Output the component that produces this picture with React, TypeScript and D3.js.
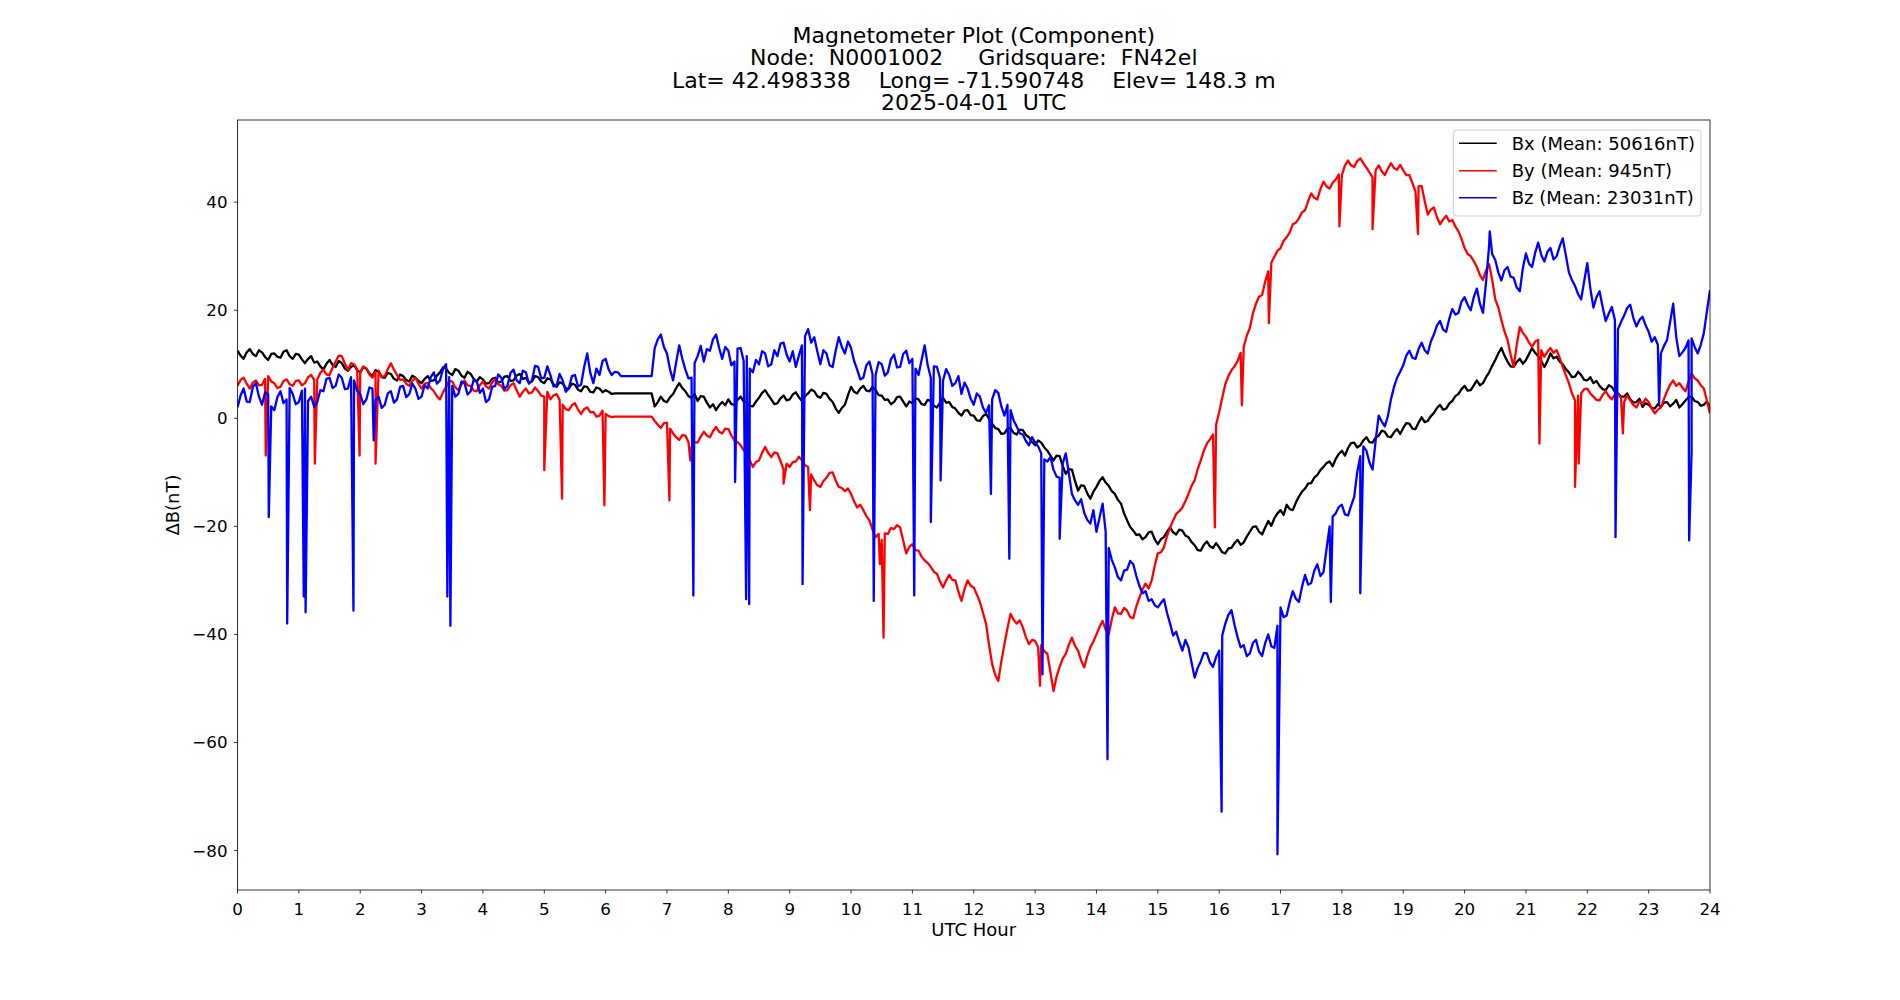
import * as d3 from "d3";

const width = 1900;
const height = 1000;
const marginTop = 120;
const marginRight = 190;
const marginBottom = 110;
const marginLeft = 237.5;

const titleLines = [
  "Magnetometer Plot (Component)",
  "Node:  N0001002     Gridsquare:  FN42el",
  "Lat= 42.498338    Long= -71.590748    Elev= 148.3 m",
  "2025-04-01  UTC",
];

const hourTicks = d3.range(0, 25);
const deltaTicks = [-80, -60, -40, -20, 0, 20, 40];

// readings every 3 minutes, 00:00 to 24:00 UTC, nT offset from the daily mean
// (one row per hour)
const sampleStep = 0.05;

const bx = [
  12.5, 11.6, 11.0, 12.2, 12.8, 11.9, 11.5, 12.6, 12.2, 11.3, 10.8, 11.9, 12.0, 11.4, 11.2, 12.3, 12.6, 11.5, 11.0, 11.9,
  11.8, 10.9, 10.2, 11.0, 11.5, 10.3, 10.5, 9.6, 9.0, 10.1, 10.8, 9.9, 9.5, 10.6, 10.2, 9.2, 8.8, 9.5, 9.8, 8.9,
  8.5, 9.4, 9.2, 8.3, 7.8, 8.9, 8.6, 7.6, 7.5, 8.4, 8.2, 7.3, 7.0, 8.1, 7.8, 7.1, 6.8, 7.9, 7.5, 6.9,
  6.5, 7.3, 7.8, 6.9, 7.0, 7.9, 8.5, 9.4, 9.2, 8.4, 8.0, 9.1, 8.8, 7.9, 7.5, 8.6, 8.2, 7.3, 6.8, 7.6,
  7.2, 6.4, 6.5, 7.3, 7.5, 6.6, 6.8, 7.7, 7.8, 6.9, 7.0, 7.9, 8.2, 7.3, 7.5, 6.6, 6.8, 7.8, 7.6, 6.8,
  6.5, 7.4, 7.2, 6.3, 5.8, 6.7, 6.4, 5.6, 5.5, 6.4, 6.2, 5.3, 5.0, 5.9, 5.8, 4.9, 4.8, 5.7, 5.5, 4.8,
  5.2, 4.9, 4.5, 4.6, 4.6, 4.6, 4.6, 4.6, 4.6, 4.6, 4.6, 4.6, 4.6, 4.6, 4.6, 4.6, 2.2, 3.0, 4.0, 3.2,
  3.0, 3.9, 4.5, 5.6, 6.5, 5.6, 5.0, 4.1, 3.8, 4.5, 3.2, 4.1, 4.0, 2.9, 2.0, 2.6, 1.5, 2.4, 3.0, 2.4,
  3.5, 2.6, 2.5, 3.4, 4.0, 3.1, 3.0, 2.3, 2.2, 3.1, 3.8, 4.7, 5.2, 4.3, 3.5, 2.6, 2.8, 3.7, 4.2, 3.3,
  3.5, 4.4, 4.8, 3.9, 3.2, 4.1, 4.6, 5.3, 5.0, 4.1, 3.8, 4.7, 4.5, 3.6, 3.0, 1.8, 1.0, 1.9, 2.5, 4.3,
  5.8, 4.9, 4.6, 5.5, 6.0, 5.1, 5.0, 5.8, 5.2, 4.3, 4.2, 3.4, 3.5, 2.6, 3.0, 3.9, 4.0, 3.1, 2.2, 3.1,
  2.8, 3.7, 3.5, 2.6, 2.5, 3.4, 3.2, 2.3, 2.0, 2.9, 3.8, 2.9, 3.0, 2.1, 1.8, 1.0, 0.5, 1.4, 1.5, 0.6,
  0.5, -0.4, -0.5, 0.4, 0.8, -0.1, -1.0, -1.8, -2.0, -2.9, -2.8, -1.9, -1.8, -2.7, -3.0, -2.1, -2.2, -3.1, -3.5, -4.4,
  -5.0, -4.1, -4.5, -5.4, -6.0, -6.9, -7.8, -6.9, -7.0, -8.8, -10.3, -9.4, -9.5, -11.6, -13.4, -12.4, -12.5, -13.9, -14.9, -13.6,
  -12.7, -11.6, -10.9, -11.9, -12.5, -13.5, -14.0, -15.1, -15.8, -17.6, -18.9, -20.1, -20.8, -21.6, -21.5, -22.4, -22.0, -21.1, -21.0, -22.4,
  -23.3, -22.4, -22.0, -21.0, -20.2, -21.1, -21.5, -20.6, -20.8, -21.7, -22.0, -22.9, -23.5, -24.4, -24.5, -23.4, -22.8, -23.7, -24.0, -23.1,
  -23.9, -24.8, -25.0, -24.1, -24.0, -23.1, -22.5, -23.4, -23.0, -21.9, -21.0, -20.1, -20.0, -21.0, -21.5, -20.2, -19.0, -19.9, -18.5, -17.6,
  -17.0, -17.9, -16.0, -16.8, -17.0, -15.6, -14.5, -13.6, -13.0, -12.1, -12.0, -11.0, -10.5, -9.6, -9.0, -8.3, -8.0, -8.9, -7.5, -6.6,
  -6.0, -6.9, -5.5, -4.6, -4.5, -5.4, -5.0, -4.1, -3.5, -4.4, -4.5, -3.6, -3.2, -2.3, -2.5, -3.4, -3.5, -2.6, -2.0, -2.9,
  -1.8, -0.9, -1.0, -1.9, -2.0, -0.8, 0.2, -0.7, -0.5, 0.4, 1.0, 1.9, 2.5, 1.6, 1.8, 2.7, 3.2, 4.1, 4.5, 5.4,
  6.0, 5.1, 5.2, 6.1, 7.0, 6.1, 6.5, 7.6, 8.5, 9.7, 10.8, 12.0, 13.0, 11.6, 10.5, 9.6, 9.5, 10.4, 11.0, 10.1,
  10.8, 11.9, 13.0, 12.1, 11.5, 10.6, 9.5, 10.6, 12.0, 11.1, 11.4, 10.5, 10.0, 9.1, 8.5, 7.6, 7.7, 8.6, 8.0, 7.1,
  7.0, 7.6, 6.5, 6.9, 6.0, 5.4, 5.2, 6.1, 5.8, 4.9, 4.6, 4.0, 4.0, 4.6, 3.5, 2.9, 3.0, 3.6, 2.1, 2.8,
  2.5, 1.9, 1.8, 2.6, 2.1, 2.9, 3.0, 2.2, 2.7, 3.4, 2.0, 2.6, 3.3, 3.9, 4.0, 3.2, 3.0, 2.3, 2.5, 3.1,
  2.1,
];

const by = [
  6.0, 7.1, 7.5, 6.4, 5.5, 6.6, 7.0, 6.1, 6.2, 7.3, 7.8, 6.8, 6.5, 5.6, 5.8, 6.9, 7.2, 6.3, 6.0, 6.9,
  7.0, 6.1, 6.5, 7.6, 8.0, 7.1, 7.2, 8.4, 9.0, 8.1, 8.0, 9.4, 10.5, 11.6, 11.5, 10.1, 9.0, 10.2, 10.0, 9.1,
  8.5, 9.6, 9.2, 8.1, 7.5, 8.6, 8.8, 7.7, 7.8, 9.1, 10.2, 9.0, 8.0, 7.1, 7.2, 6.4, 6.0, 6.9, 7.5, 6.4,
  5.5, 6.4, 6.5, 5.6, 5.0, 4.1, 3.5, 4.8, 5.8, 6.9, 6.8, 5.7, 5.2, 6.3, 7.0, 6.1, 6.0, 5.1, 5.0, 6.1,
  6.8, 5.9, 5.5, 6.6, 7.2, 6.3, 6.0, 5.1, 5.2, 6.1, 6.5, 5.2, 4.0, 4.9, 5.5, 4.6, 4.8, 5.7, 5.0, 4.2,
  4.0, 4.9, 3.5, 4.2, 4.5, 3.4, 2.5, 1.7, 1.5, 2.4, 2.8, 1.6, 0.8, 1.7, 2.0, 1.1, 1.2, 0.3, 0.5, 1.4,
  0.8, 0.4, 0.2, 0.3, 0.3, 0.3, 0.3, 0.3, 0.3, 0.3, 0.3, 0.3, 0.3, 0.3, 0.3, 0.3, -0.5, -1.2, -1.8, -0.9,
  -0.8, -1.9, -2.8, -3.5, -4.0, -3.1, -3.2, -4.4, -5.3, -4.4, -4.5, -3.4, -2.5, -3.2, -3.5, -2.4, -1.6, -2.5, -2.8, -1.9,
  -2.0, -3.2, -4.1, -4.4, -5.0, -5.9, -6.5, -7.8, -9.0, -8.1, -7.8, -6.4, -5.3, -6.4, -7.2, -6.3, -6.5, -7.9, -9.5, -8.4,
  -9.0, -8.1, -8.0, -7.1, -7.8, -8.7, -9.0, -10.4, -11.5, -12.4, -12.7, -11.6, -11.0, -10.1, -10.0, -11.5, -12.7, -12.9, -13.5, -13.0,
  -14.0, -15.4, -16.5, -16.0, -17.0, -18.1, -18.9, -20.6, -22.0, -21.4, -22.5, -21.3, -21.4, -20.3, -20.5, -19.8, -20.2, -22.6, -25.0, -23.8,
  -23.3, -24.4, -24.5, -25.6, -26.3, -26.8, -27.5, -28.4, -28.8, -30.2, -31.3, -30.0, -29.0, -29.9, -30.0, -32.1, -33.8, -31.6, -30.0, -31.0,
  -31.3, -32.6, -34.0, -36.0, -38.0, -42.0, -45.5, -47.5, -48.6, -45.0, -41.8, -38.8, -36.2, -37.3, -38.0, -37.4, -38.7, -40.5, -41.8, -41.0,
  -41.2, -42.4, -42.0, -43.1, -43.6, -47.0, -50.5, -47.8, -46.0, -44.5, -43.6, -41.9, -40.6, -42.1, -43.0, -44.8, -46.1, -44.0, -42.4, -41.3,
  -40.0, -38.6, -37.5, -39.1, -40.0, -37.2, -35.0, -36.1, -36.2, -35.1, -35.6, -36.8, -37.0, -34.8, -33.2, -31.7, -30.6, -31.5, -30.0, -27.3,
  -25.0, -24.8, -23.9, -21.8, -20.2, -18.9, -17.7, -17.2, -16.5, -15.3, -14.0, -12.5, -11.5, -9.4, -7.8, -6.0, -4.7, -3.9, -3.0, -1.2,
  1.1, 3.8, 6.3, 7.8, 8.9, 9.6, 10.6, 12.1, 13.2, 15.3, 16.7, 19.4, 21.2, 22.5, 22.8, 25.3, 27.2, 28.8, 29.9, 31.0,
  31.5, 32.8, 33.5, 34.4, 35.9, 36.2, 37.0, 38.1, 38.5, 40.2, 41.6, 40.8, 40.5, 42.4, 43.8, 42.9, 42.5, 43.6, 44.2, 45.1,
  45.0, 46.8, 47.7, 46.8, 46.5, 47.6, 48.1, 47.2, 46.4, 45.5, 44.6, 45.9, 46.8, 45.7, 45.0, 46.2, 47.2, 46.3, 46.0, 46.9,
  45.9, 45.0, 45.0, 43.5, 42.0, 42.9, 43.0, 40.2, 37.7, 38.6, 39.0, 37.2, 35.9, 36.8, 37.5, 36.4, 36.7, 35.5, 34.6, 33.2,
  31.5, 30.4, 30.0, 29.1, 28.0, 26.5, 25.6, 27.4, 28.5, 25.6, 22.0, 20.5, 18.2, 16.1, 14.5, 11.8, 9.5, 13.6, 16.9, 15.8,
  15.1, 14.0, 13.2, 14.2, 14.5, 12.6, 11.4, 12.3, 13.0, 12.1, 12.6, 11.2, 9.5, 8.0, 6.5, 4.6, 3.3, 4.2, 4.6, 5.4,
  5.5, 4.6, 4.0, 3.4, 3.3, 4.3, 5.0, 4.1, 3.5, 4.4, 4.6, 3.7, 3.0, 4.2, 3.3, 2.5, 2.0, 3.1, 2.7, 3.6,
  3.0, 1.8, 0.9, 1.6, 2.0, 3.6, 5.0, 6.2, 7.0, 6.0, 6.5, 5.7, 5.0, 6.8, 8.3, 7.4, 7.0, 6.1, 5.5, 3.2,
  0.9,
];

const bz = [
  2.0, 4.2, 5.5, 3.1, 3.0, 5.8, 6.5, 4.0, 2.5, 4.8, 4.5, 2.2, 1.5, 3.9, 5.0, 2.8, 3.5, 5.6, 4.5, 2.6,
  3.0, 5.1, 5.5, 3.2, 4.0, 2.1, 3.0, 5.2, 5.0, 7.3, 7.5, 5.6, 6.0, 8.1, 7.5, 5.4, 5.5, 7.6, 7.0, 5.1,
  4.5, 2.6, 3.5, 5.7, 5.5, 3.4, 4.0, 1.9, 2.5, 4.6, 5.0, 2.9, 3.5, 5.8, 6.0, 3.9, 4.5, 6.4, 5.5, 3.6,
  4.0, 6.1, 5.5, 7.6, 8.5, 6.4, 7.0, 9.2, 10.0, 7.6, 6.0, 4.0, 4.5, 6.8, 6.5, 4.4, 5.0, 7.1, 6.8, 4.7,
  5.5, 3.0, 3.5, 5.8, 6.0, 8.1, 7.5, 5.4, 6.0, 8.4, 9.0, 7.0, 6.5, 8.8, 8.5, 6.4, 7.0, 9.7, 9.5, 7.4,
  7.5, 9.6, 8.0, 5.9, 6.0, 8.2, 7.0, 4.9, 5.5, 7.8, 8.0, 5.9, 6.2, 9.5, 12.0, 8.4, 6.5, 9.2, 8.0, 10.6,
  11.0, 9.0, 8.0, 8.6, 8.5, 7.8, 7.8, 7.8, 7.8, 7.8, 7.8, 7.8, 7.8, 7.8, 7.8, 7.8, 13.0, 14.6, 15.5, 13.2,
  12.0, 9.0, 7.0, 10.4, 13.5, 11.0, 9.0, 7.4, 7.5, 10.2, 11.5, 13.4, 10.5, 12.8, 12.5, 14.6, 15.5, 13.0, 11.0, 13.2,
  12.5, 9.8, 10.5, 12.9, 13.0, 10.6, 11.5, 9.2, 8.5, 10.8, 10.0, 12.4, 12.0, 9.6, 10.0, 12.6, 11.5, 13.8, 14.0, 11.8,
  10.5, 12.4, 9.5, 11.6, 13.5, 15.2, 16.5, 14.0, 15.0, 12.4, 10.0, 12.6, 12.0, 9.8, 9.5, 12.5, 15.0, 13.2, 12.0, 14.2,
  13.0, 10.6, 9.0, 7.2, 7.5, 9.8, 10.5, 8.2, 8.0, 10.4, 10.0, 7.9, 8.5, 10.9, 11.8, 9.4, 9.5, 11.9, 12.5, 10.2,
  11.0, 9.2, 8.0, 10.8, 13.5, 9.8, 7.5, 9.6, 9.5, 7.4, 7.0, 9.1, 8.0, 6.0, 6.5, 7.8, 4.5, 6.6, 5.5, 3.6,
  2.5, 4.6, 4.0, 2.0, 1.0, 2.4, 3.5, 5.2, 4.7, 2.2, 0.5, 2.5, 1.5, -0.4, -1.5, -2.8, -3.0, -4.2, -5.0, -3.5,
  -4.5, -5.2, -6.5, -7.6, -8.0, -7.2, -9.5, -10.8, -11.0, -8.4, -6.5, -10.2, -14.0, -15.2, -16.0, -15.0, -17.5, -18.8, -19.5, -17.0,
  -21.0, -18.4, -15.8, -21.0, -24.0, -26.2, -27.6, -29.4, -30.0, -28.2, -28.0, -26.4, -27.0, -29.2, -31.0, -32.4, -32.0, -33.8, -33.5, -34.6,
  -35.0, -34.2, -33.5, -36.0, -38.0, -40.2, -39.5, -41.4, -43.0, -41.0, -42.4, -45.2, -48.0, -46.2, -45.0, -43.4, -43.5, -45.2, -46.0, -44.2,
  -43.0, -40.2, -38.0, -36.4, -35.5, -38.2, -40.5, -42.4, -42.0, -44.0, -43.5, -41.6, -41.0, -43.2, -44.0, -41.6, -40.0, -42.2, -42.5, -38.4,
  -35.0, -36.8, -36.5, -34.0, -32.0, -33.4, -34.0, -31.2, -29.0, -30.8, -30.5, -28.2, -27.0, -29.2, -28.5, -24.2, -20.0, -18.2, -17.6, -16.4,
  -16.0, -17.8, -18.0, -16.2, -14.6, -10.0, -7.0, -5.2, -6.0, -8.2, -9.5, -4.2, 0.5, -0.6, -1.5, 0.4, 3.5, 5.8, 7.5, 8.6,
  9.8, 11.6, 12.5, 11.2, 11.0, 12.8, 14.0, 12.6, 12.0, 14.2, 15.5, 17.2, 18.0, 16.4, 16.0, 18.4, 20.2, 19.2, 19.5, 21.6,
  22.4, 21.0, 20.0, 22.4, 24.0, 21.2, 19.5, 25.2, 32.0, 30.4, 29.3, 27.0, 25.5, 27.4, 28.0, 26.2, 26.0, 24.2, 23.5, 27.8,
  30.5, 28.6, 28.0, 30.6, 32.5, 30.2, 29.0, 30.8, 31.5, 29.4, 30.0, 31.8, 33.3, 30.2, 27.0, 25.6, 24.5, 23.0, 22.0, 25.4,
  28.7, 24.0, 20.5, 22.4, 23.5, 20.6, 18.0, 19.4, 20.6, 18.2, 16.5, 17.8, 19.0, 20.4, 21.0, 18.6, 17.0, 18.2, 18.8, 17.2,
  16.0, 14.2, 15.0, 13.6, 12.0, 13.4, 14.5, 17.8, 21.2, 15.0, 11.5, 12.2, 13.0, 14.4, 14.8, 13.2, 12.0, 13.6, 15.8, 19.8,
  23.7,
];

// short excursions between the regular samples: [hour, nT]
const bySpikes: [number, number][] = [
  [0.46, -6.9], [1.26, -8.4], [1.99, -6.9], [2.25, -8.4], [5.0, -9.6],
  [5.29, -14.9], [5.98, -16.1], [7.04, -15.2], [7.38, -7.8], [8.9, -12.1],
  [9.33, -17.0], [10.47, -27.0], [10.53, -40.6], [13.08, -49.5], [15.93, -20.2],
  [16.37, 2.4], [16.81, 17.6], [17.96, 35.5], [18.5, 35.0], [19.24, 34.1],
  [21.22, -4.7], [21.8, -12.7], [21.86, -8.4], [22.58, -2.8],
];

const bzSpikes: [number, number][] = [
  [0.51, -18.3], [0.81, -38.0], [1.08, -33.0], [1.11, -35.9], [1.89, -35.6],
  [2.22, -4.1], [3.42, -33.0], [3.47, -38.4], [7.43, -32.8], [8.11, -11.8],
  [8.29, -33.5], [8.34, -34.4], [9.21, -30.7], [10.37, -33.8], [11.03, -32.8],
  [11.3, -19.2], [11.46, -11.5], [12.28, -14.0], [12.58, -26.0], [13.12, -47.4],
  [13.4, -22.3], [14.18, -63.1], [16.04, -72.8], [16.95, -80.7], [17.82, -34.0],
  [18.3, -32.4], [20.41, 34.6], [22.46, -22.0], [23.17, 2.7], [23.66, -22.6],
  [23.7, -6.2],
];

const series = [
  { label: "Bx (Mean: 50616nT)", color: "#000000", values: bx, spikes: [] as [number, number][] },
  { label: "By (Mean: 945nT)", color: "#ff0000", values: by, spikes: bySpikes },
  { label: "Bz (Mean: 23031nT)", color: "#0000ff", values: bz, spikes: bzSpikes },
];

function toPoints(values: number[], spikes: [number, number][]) {
  const pts: [number, number][] = values.map((v, i) => [i * sampleStep, v]);
  return pts.concat(spikes).sort((a, b) => a[0] - b[0]);
}

const font = "DejaVu Sans, sans-serif";

export default function App() {
  const x = d3.scaleLinear().domain([0, 24]).range([marginLeft, width - marginRight]);
  const y = d3.scaleLinear().domain([-87.3, 55.2]).range([height - marginBottom, marginTop]);
  const fmt = d3.format("d");

  const line = d3
    .line<[number, number]>()
    .x((d) => x(d[0]))
    .y((d) => y(d[1]));

  const plotW = width - marginRight - marginLeft;
  const plotH = height - marginBottom - marginTop;
  const cx = marginLeft + plotW / 2;

  const legendX = 1453.3;
  const legendY = 130;
  const rowY = [143.3, 170.7, 197.7];

  return (
    <svg
      width={width}
      height={height}
      style={{ position: "absolute", left: 0, top: 0, background: "#fff" }}
      fontFamily={font}
    >
      <rect width={width} height={height} fill="#fff" />
      <defs>
        <clipPath id="plot-area">
          <rect x={marginLeft} y={marginTop} width={plotW} height={plotH} />
        </clipPath>
      </defs>

      {titleLines.map((t, i) => (
        <text
          key={i}
          x={cx}
          y={42.7 + i * 22.4}
          textAnchor="middle"
          fontSize={22}
          fill="#000"
          style={{ whiteSpace: "pre" }}
        >
          {t}
        </text>
      ))}

      <g clipPath="url(#plot-area)" fill="none" strokeWidth={2.3} strokeLinejoin="round">
        {series.map((s) => (
          <path key={s.label} d={line(toPoints(s.values, s.spikes)) ?? ""} stroke={s.color} />
        ))}
      </g>

      <rect x={marginLeft} y={marginTop} width={plotW} height={plotH} fill="none" stroke="#000" strokeWidth={0.8} />

      <g>
        {hourTicks.map((h) => (
          <g key={h} transform={`translate(${x(h)},${height - marginBottom})`}>
            <line y2={3.5} stroke="#000" strokeWidth={0.8} />
            <text y={25} textAnchor="middle" fontSize={16.7} fill="#000">
              {fmt(h)}
            </text>
          </g>
        ))}
      </g>

      <g>
        {deltaTicks.map((v) => (
          <g key={v} transform={`translate(${marginLeft},${y(v)})`}>
            <line x2={-3.5} stroke="#000" strokeWidth={0.8} />
            <text x={-10} dy="0.36em" textAnchor="end" fontSize={16.7} fill="#000">
              {fmt(v)}
            </text>
          </g>
        ))}
      </g>

      <text x={cx} y={936} textAnchor="middle" fontSize={18} fill="#000">
        UTC Hour
      </text>
      <text
        transform={`translate(179,${marginTop + plotH / 2}) rotate(-90)`}
        textAnchor="middle"
        fontSize={18}
        fill="#000"
      >
        ΔB(nT)
      </text>

      <g>
        <rect
          x={legendX}
          y={legendY}
          width={247.7}
          height={86}
          rx={3.5}
          fill="#fff"
          fillOpacity={0.8}
          stroke="#cccccc"
          strokeWidth={1}
        />
        {series.map((s, i) => (
          <g key={s.label}>
            <line x1={1459} x2={1496.7} y1={rowY[i]} y2={rowY[i]} stroke={s.color} strokeWidth={1.5} />
            <text x={1511.7} y={rowY[i]} dy="0.36em" fontSize={18} fill="#000">
              {s.label}
            </text>
          </g>
        ))}
      </g>
    </svg>
  );
}
